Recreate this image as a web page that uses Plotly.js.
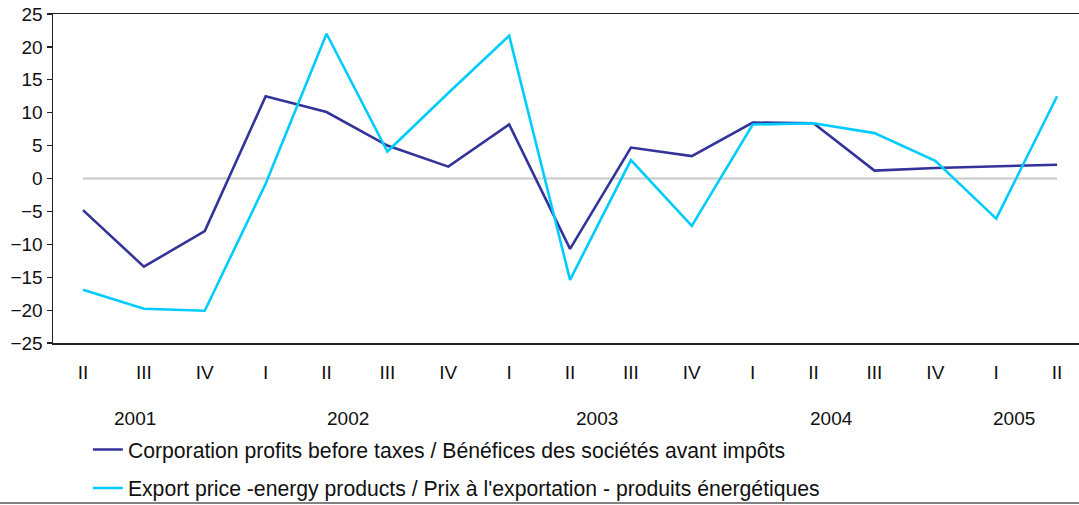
<!DOCTYPE html>
<html>
<head>
<meta charset="utf-8">
<script src="https://cdn.plot.ly/plotly-3.0.1.min.js"></script>
<style>html,body{margin:0;padding:0;background:#fff}#chart{width:1079px;height:505px}</style>
</head>
<body>
<div id="chart"></div>
<script>
var quarterLabels = ["II","III","IV","I","II","III","IV","I","II","III","IV","I","II","III","IV","I","II"];
var yearLabels = ["2001","2002","2003","2004","2005"];
var yearPositions = [0.85, 4.35, 8.45, 12.3, 15.3];
var corporateProfits = [-4.8, -13.4, -8.0, 12.5, 10.1, 5.0, 1.8, 8.2, -10.7, 4.7, 3.4, 8.5, 8.4, 1.2, 1.6, 1.9, 2.1];
var exportEnergyPrice = [-16.9, -19.8, -20.1, -0.8, 22.0, 4.1, 13.0, 21.7, -15.4, 2.8, -7.2, 8.2, 8.4, 6.9, 2.7, -6.1, 12.5];
var seriesNames = [
  "Corporation profits before taxes / Bénéfices des sociétés avant impôts",
  "Export price -energy products / Prix à l'exportation - produits énergétiques"
];

var xIdx = quarterLabels.map(function(_, i){ return i; });
var font = {family: "Liberation Sans, Arial, sans-serif", size: 19, color: "#111"};
var legendFont = {family: "Liberation Sans, Arial, sans-serif", size: 21.2, color: "#111"};

var traces = [
  {x: xIdx, y: corporateProfits, name: seriesNames[0], type: "scatter", mode: "lines",
   line: {color: "#333399", width: 2.6}, legendgroup: "a"},
  {x: xIdx, y: exportEnergyPrice, name: seriesNames[1], type: "scatter", mode: "lines",
   line: {color: "#00ccff", width: 2.6}, legendgroup: "b"}
];

var annotations = yearLabels.map(function(t, i){
  return {text: t, x: yearPositions[i], xref: "x", y: -0.228, yref: "paper",
          showarrow: false, font: font, xanchor: "center", yanchor: "middle"};
});

var layout = {
  width: 1079, height: 505,
  margin: {l: 53, r: 0, t: 14, b: 162, autoexpand: false},
  paper_bgcolor: "#fff", plot_bgcolor: "#fff",
  font: font,
  showlegend: true,
  legend: {x: 0.034, xanchor: "left", y: -0.262, yanchor: "top", orientation: "v",
           traceorder: "grouped", tracegroupgap: 8, font: legendFont, bgcolor: "rgba(0,0,0,0)"},
  xaxis: {range: [-0.493, 16.36], tickvals: xIdx, ticktext: quarterLabels,
          showgrid: false, zeroline: false, showline: true, mirror: true,
          linecolor: "#222", linewidth: 1.5, ticks: "", ticklabelstandoff: 12,
          tickfont: font, fixedrange: true},
  yaxis: {range: [-25, 25], dtick: 5, tick0: -25, showgrid: false, zeroline: false,
          showline: true, mirror: true, linecolor: "#222", linewidth: 1.5,
          ticks: "outside", ticklen: 5, tickcolor: "#222", tickwidth: 1.2,
          tickfont: font, fixedrange: true},
  shapes: [
    {type: "line", xref: "x", yref: "y", x0: 0, x1: 16, y0: 0, y1: 0,
     line: {color: "#c8c8c8", width: 2}, layer: "below"},
    {type: "line", xref: "paper", yref: "paper", x0: -0.06, x1: 1.01, y0: -0.486, y1: -0.486,
     line: {color: "#808080", width: 2}}
  ],
  annotations: annotations
};

Plotly.newPlot("chart", traces, layout, {displayModeBar: false, staticPlot: true});
</script>
</body>
</html>
